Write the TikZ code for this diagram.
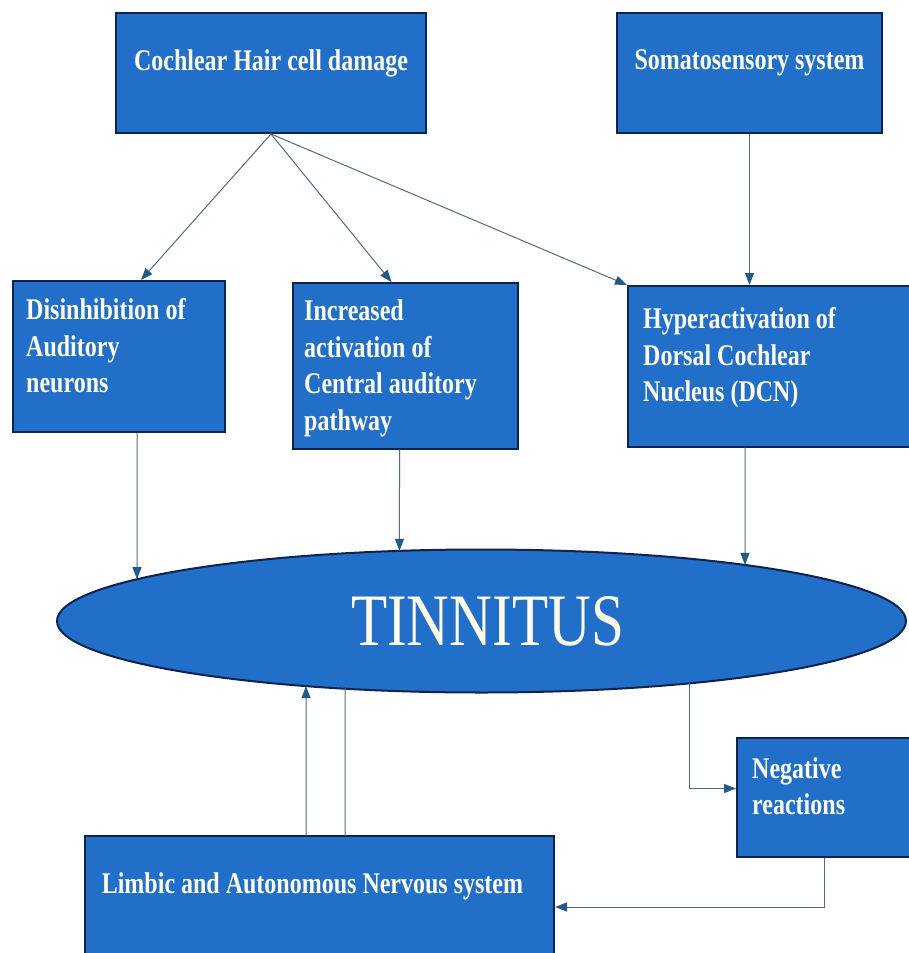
\documentclass[tikz,border=0pt]{standalone}
\usepackage{fontspec}
\setmainfont{Liberation Serif}[FakeStretch=0.8]
\usetikzlibrary{shapes.geometric}
\usetikzlibrary{arrows.meta}
\usetikzlibrary{intersections}

\begin{document}
\begin{tikzpicture}[x=1pt,y=-1pt,line cap=rect,
	stagebox/.style={draw=custcol_navy, line width=2pt, fill=custcol_boxblue, anchor=north west, inner sep=0pt},
	stagetext/.style={text=custcol_cream, inner sep=0pt, align=flush left, font=\bfseries\fontsize{30pt}{36.5pt}\selectfont},
	flow/.style={draw=custcol_wire, line width=1pt, -{Triangle[length=12pt,width=9pt,color=custcol_tip]}},
	plainwire/.style={draw=custcol_wire, line width=1pt}]
					\definecolor{custcol_boxblue}{RGB}{33, 111, 201}
					\definecolor{custcol_navy}{RGB}{15, 35, 75}
					\definecolor{custcol_cream}{RGB}{255, 251, 228}
					\definecolor{custcol_wire}{RGB}{85, 105, 125}
					\definecolor{custcol_tip}{RGB}{35, 90, 140}
					\fill [white] (0,0) rectangle (908,953);
					\useasboundingbox (0,0) rectangle (908,953);
					\node [stagebox, minimum width=310pt, minimum height=120pt] (hair) at (115,12) {};
					\node [stagetext, anchor=base] (hairtext) at ([shift={(0,58)}]hair.north) {Cochlear Hair cell damage};
					\node [stagebox, minimum width=265pt, minimum height=120pt] (soma) at (616,12) {};
					\node [stagetext, anchor=base] (somatext) at ([shift={(0,57)}]soma.north) {Somatosensory system};
					\node [stagebox, minimum width=212pt, minimum height=151pt] (disinh) at (12,280) {};
					\node [stagetext, anchor=north west] (disinhtext) at ([shift={(14,18.5)}]disinh.north west) {Disinhibition of\\Auditory\\neurons};
					\node [stagebox, minimum width=225pt, minimum height=166pt] (incr) at (292,282) {};
					\node [stagetext, anchor=north west] (incrtext) at ([shift={(12,17.5)}]incr.north west) {Increased\\activation of\\Central auditory\\pathway};
					\node [stagebox, minimum width=283pt, minimum height=161pt] (hyper) at (627,285) {};
					\node [stagetext, anchor=north west] (hypertext) at ([shift={(16,22.5)}]hyper.north west) {Hyperactivation of\\Dorsal Cochlear\\Nucleus (DCN)};
					\node [ellipse, draw=custcol_navy, line width=2pt, fill=custcol_boxblue, text=custcol_cream, minimum width=849pt, minimum height=143pt, inner sep=0pt, font=\fontsize{74pt}{74pt}\selectfont, name path=rim] (tinn) at (481.5,621) {\hspace{12pt}TINNITUS};
					\node [stagebox, minimum width=174pt, minimum height=119pt] (negr) at (736,737) {};
					\node [stagetext, anchor=north west] (negrtext) at ([shift={(16,20)}]negr.north west) {Negative\\reactions};
					\node [stagebox, minimum width=469pt, minimum height=122pt] (limbic) at (84,835) {};
					\node [stagetext, anchor=base] (limbictext) at ([shift={(-7,58)}]limbic.north) {Limbic and Autonomous Nervous system};
					\draw [flow] (hair.south) -- ([xshift=22pt]disinh.north);
					\draw [flow] (hair.south) -- ([xshift=-14pt]incr.north);
					\draw [flow] (hair.south) -- (hyper.north west);
					\draw [flow] (soma.south) -- (soma.south |- hyper.north);
					\coordinate (dropA) at ([xshift=18pt]disinh.south);
					\path [name path=lineA] (dropA) -- (dropA |- tinn.center);
					\draw [flow, name intersections={of=lineA and rim}] (dropA) -- (intersection-1);
					\coordinate (dropB) at ([xshift=-6pt]incr.south);
					\path [name path=lineB] (dropB) -- (dropB |- tinn.center);
					\draw [flow, name intersections={of=lineB and rim}] (dropB) -- (intersection-1);
					\coordinate (dropC) at ([xshift=-24.5pt]hyper.south);
					\path [name path=lineC] (dropC) -- (dropC |- tinn.center);
					\draw [flow, name intersections={of=lineC and rim}] (dropC) -- (intersection-1);
					\coordinate (riseA) at ([xshift=-13.5pt]limbic.north);
					\path [name path=lineD] (riseA) -- (riseA |- tinn.center);
					\draw [flow, name intersections={of=lineD and rim}] (riseA) -- (intersection-1);
					\coordinate (riseB) at ([xshift=25.5pt]limbic.north);
					\path [name path=lineE] (riseB) -- (riseB |- tinn.center);
					\draw [plainwire, name intersections={of=lineE and rim}] (intersection-1) -- (riseB);
					\coordinate (riseC) at ([xshift=208.5pt]tinn.south);
					\path [name path=lineF] (riseC) -- (riseC |- tinn.center);
					\draw [flow, name intersections={of=lineF and rim}] (intersection-1) |- ([yshift=9pt]negr.west);
					\draw [flow] (negr.south) |- ([yshift=-10pt]limbic.east);
				\end{tikzpicture}
\end{document}
